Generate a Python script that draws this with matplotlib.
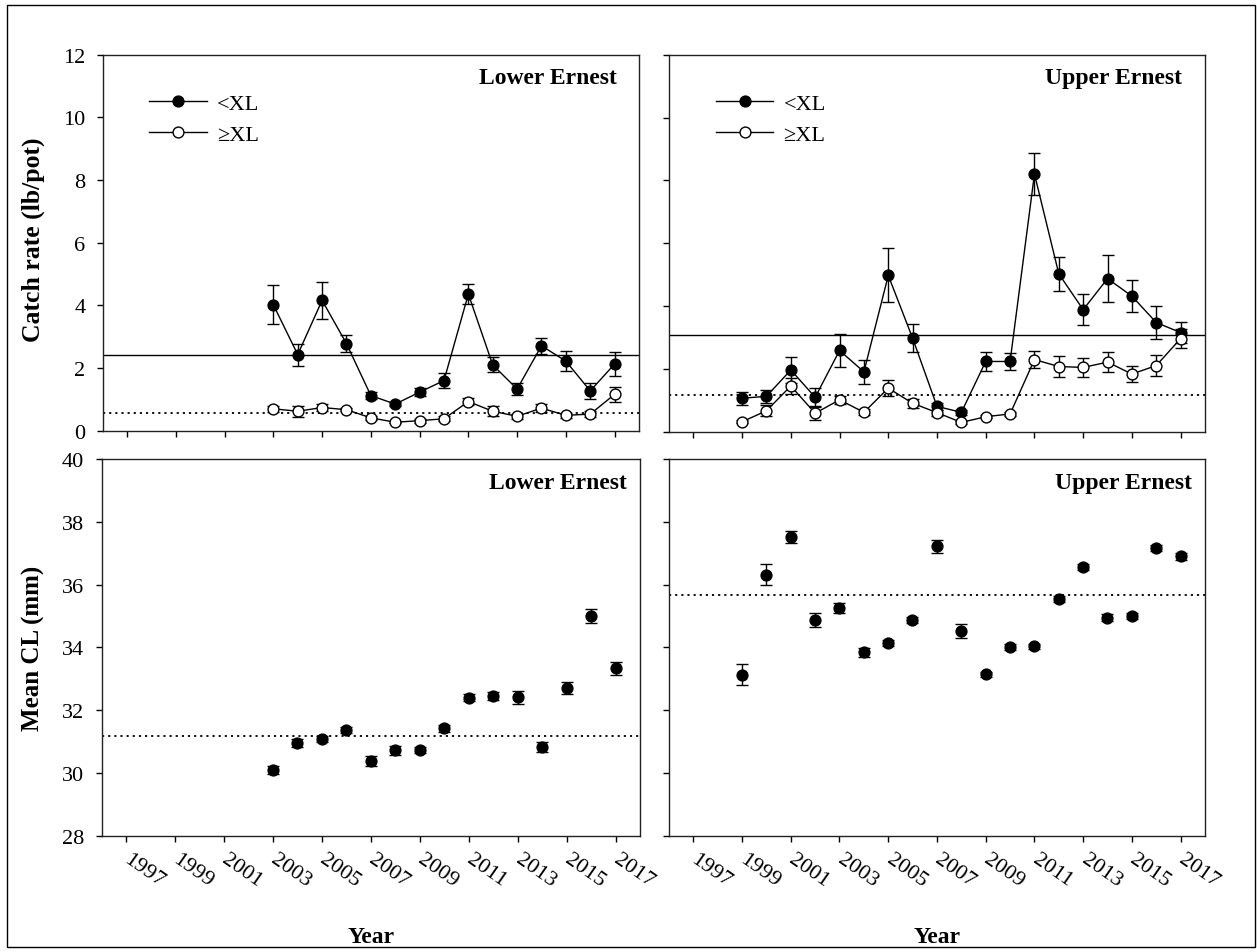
import matplotlib
matplotlib.use("Agg")
import matplotlib.pyplot as plt
from matplotlib.patches import Rectangle

plt.rcParams['font.family'] = ['Liberation Serif', 'DejaVu Serif']

# ---------------- data ----------------
years_lower = list(range(2003, 2018))
years_upper = list(range(1999, 2018))
year_ticks = list(range(1997, 2018, 2))

# catch rate (lb/pot), Lower Ernest
lower_small = [4.02, 2.43, 4.16, 2.78, 1.12, 0.85, 1.23, 1.60, 4.36, 2.10, 1.33, 2.71, 2.22, 1.27, 2.13]
lower_small_se = [0.62, 0.35, 0.60, 0.27, 0.12, 0.06, 0.13, 0.24, 0.32, 0.24, 0.20, 0.25, 0.32, 0.25, 0.39]
lower_large = [0.70, 0.62, 0.74, 0.67, 0.41, 0.27, 0.32, 0.38, 0.93, 0.62, 0.46, 0.72, 0.49, 0.53, 1.16]
lower_large_se = [0.09, 0.18, 0.12, 0.05, 0.06, 0.04, 0.06, 0.08, 0.10, 0.16, 0.08, 0.12, 0.08, 0.10, 0.25]
lower_small_mean = 2.41
lower_large_mean = 0.55

# catch rate (lb/pot), Upper Ernest
upper_small = [1.06, 1.12, 1.96, 1.09, 2.58, 1.90, 4.97, 2.97, 0.80, 0.61, 2.23, 2.23,
               8.20, 5.02, 3.88, 4.87, 4.31, 3.47, 3.15]
upper_small_se = [0.21, 0.21, 0.40, 0.28, 0.53, 0.38, 0.86, 0.45, 0.10, 0.08, 0.29, 0.27,
                  0.68, 0.54, 0.50, 0.74, 0.51, 0.54, 0.33]
upper_large = [0.31, 0.66, 1.45, 0.58, 1.01, 0.61, 1.38, 0.90, 0.60, 0.29, 0.47, 0.56,
               2.29, 2.07, 2.04, 2.21, 1.83, 2.10, 2.96]
upper_large_se = [0.05, 0.18, 0.24, 0.20, 0.12, 0.10, 0.25, 0.15, 0.10, 0.05, 0.05, 0.06,
                  0.27, 0.32, 0.29, 0.33, 0.25, 0.33, 0.30]
upper_small_mean = 3.08
upper_large_mean = 1.17

# mean carapace length (mm)
lower_cl = [30.10, 30.95, 31.09, 31.36, 30.37, 30.72, 30.74, 31.42, 32.40, 32.45, 32.41,
            30.82, 32.70, 35.01, 33.33]
lower_cl_se = [0.13, 0.14, 0.10, 0.10, 0.16, 0.15, 0.10, 0.12, 0.10, 0.12, 0.21,
               0.15, 0.20, 0.22, 0.20]
lower_cl_mean = 31.19
upper_cl = [33.13, 36.32, 37.52, 34.86, 35.25, 33.84, 34.15, 34.87, 37.22, 34.51, 33.15,
            34.01, 34.04, 35.54, 36.57, 34.95, 35.01, 37.17, 36.90]
upper_cl_se = [0.33, 0.33, 0.20, 0.22, 0.17, 0.15, 0.10, 0.10, 0.20, 0.22, 0.08,
               0.10, 0.08, 0.08, 0.10, 0.12, 0.10, 0.10, 0.12]
upper_cl_mean = 35.67

labels = ['<XL', '\u2265XL']

# ---------------- figure ----------------
W, H = 1257, 953
fig = plt.figure(figsize=(W / 100, H / 100), dpi=100)


def px_axes(x0, x1, y0, y1):
    return fig.add_axes([x0 / W, 1 - y1 / H, (x1 - x0) / W, (y1 - y0) / H])


ax_tl = px_axes(102.7, 639, 55.7, 431.7)
ax_tr = px_axes(669, 1205, 55.7, 432.5)
ax_bl = px_axes(101.5, 640, 460, 836.7)
ax_br = px_axes(668.7, 1205, 460, 836.7)

MS = 7.8
CAP = 4.3


def style_axes(ax, ylim, yticks, ylabels, xlabels):
    ax.set_xlim(1996, 2018)
    ax.set_ylim(*ylim)
    ax.set_xticks(year_ticks)
    ax.set_yticks(yticks)
    ax.tick_params(axis='both', direction='out', length=4.5, width=1, labelsize=16)
    ax.tick_params(axis='y', pad=8)
    ax.tick_params(axis='x', pad=11)
    ax.tick_params(labelleft=ylabels, labelbottom=xlabels)
    for s in ax.spines.values():
        s.set_linewidth(1.0)
        s.set_color('#222222')
    if xlabels:
        ax.set_xticklabels([str(y) for y in year_ticks], rotation=-35,
                           rotation_mode='anchor', ha='left', va='center',
                           fontsize=16)


def catch_panel(ax, years, small, small_se, large, large_se, m_small, m_large, title,
                ylabels):
    ax.axhline(m_small, color='black', lw=1.0, zorder=1)
    ax.axhline(m_large, color='black', lw=1.3, ls=(0, (1.2, 2.2)), zorder=1)
    ax.errorbar(years, small, yerr=small_se, fmt='none', ecolor='black', elinewidth=1,
                capsize=CAP, capthick=1, zorder=2)
    ax.errorbar(years, large, yerr=large_se, fmt='none', ecolor='black', elinewidth=1,
                capsize=CAP, capthick=1, zorder=2)
    h1, = ax.plot(years, small, color='black', lw=1, marker='o', ms=MS,
                  mfc='black', mec='black', zorder=3, label=labels[0])
    h2, = ax.plot(years, large, color='black', lw=1, marker='o', ms=MS,
                  mfc='white', mec='black', mew=1, zorder=4, label=labels[1])
    style_axes(ax, (0, 12), range(0, 13, 2), ylabels, False)
    ax.text(0.958, 0.94, title, transform=ax.transAxes, ha='right', va='center',
            fontsize=17, fontweight='bold')
    ax.legend(handles=[h1, h2], loc='upper left', bbox_to_anchor=(0.087, 0.898),
              frameon=False, fontsize=16, handlelength=2.6, handletextpad=0.45,
              labelspacing=0.48, borderaxespad=0, borderpad=0)


def cl_panel(ax, years, cl, cl_se, m, title, ylabels):
    ax.axhline(m, color='black', lw=1.3, ls=(0, (1.2, 2.2)), zorder=1)
    ax.errorbar(years, cl, yerr=cl_se, fmt='o', color='black', ms=MS, elinewidth=1,
                capsize=CAP, capthick=1, zorder=3)
    style_axes(ax, (28, 40), range(28, 41, 2), ylabels, True)
    ax.text(0.975, 0.937, title, transform=ax.transAxes, ha='right', va='center',
            fontsize=17, fontweight='bold')


catch_panel(ax_tl, years_lower, lower_small, lower_small_se, lower_large, lower_large_se,
            lower_small_mean, lower_large_mean, 'Lower Ernest', True)
catch_panel(ax_tr, years_upper, upper_small, upper_small_se, upper_large, upper_large_se,
            upper_small_mean, upper_large_mean, 'Upper Ernest', False)
cl_panel(ax_bl, years_lower, lower_cl, lower_cl_se, lower_cl_mean, 'Lower Ernest', True)
cl_panel(ax_br, years_upper, upper_cl, upper_cl_se, upper_cl_mean, 'Upper Ernest', False)

# axis titles
fig.text(33 / W, 1 - 240 / H, 'Catch rate (lb/pot)', rotation=90, ha='center',
         va='center', fontsize=18.5, fontweight='bold')
fig.text(33 / W, 1 - 648 / H, 'Mean CL (mm)', rotation=90, ha='center',
         va='center', fontsize=18, fontweight='bold')
fig.text(371 / W, 1 - 938 / H, 'Year', ha='center', va='center', fontsize=17,
         fontweight='bold')
fig.text(937 / W, 1 - 938 / H, 'Year', ha='center', va='center', fontsize=17,
         fontweight='bold')

# outer frame
fig.patches.append(Rectangle((7 / W, 1 - 948 / H), (1255 - 7) / W, (948 - 6) / H,
                             transform=fig.transFigure, fill=False, lw=1,
                             ec='black'))

fig.savefig('out.png', dpi=100)
